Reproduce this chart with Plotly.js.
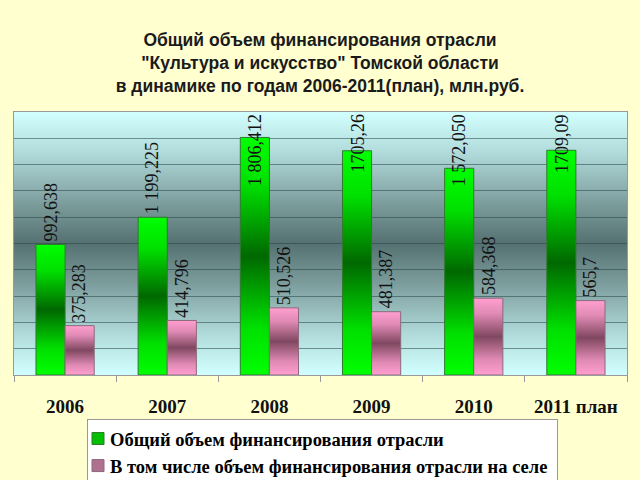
<!DOCTYPE html>
<html>
<head>
<meta charset="utf-8">
<script src="https://cdn.plot.ly/plotly-3.0.1.min.js"></script>
<style>
html,body{margin:0;padding:0;background:#FFFFD0;}
#chart{width:640px;height:480px;}
</style>
</head>
<body>
<div id="chart"></div>
<script>
const categories = ["2006", "2007", "2008", "2009", "2010", "2011 план"];
const totalValues = [992.638, 1199.225, 1806.412, 1705.26, 1572.050, 1709.09];
const ruralValues = [375.283, 414.796, 510.526, 481.387, 584.368, 565.7];
const totalLabels = ["992,638", "1 199,225", "1 806,412", "1705,26", "1 572,050", "1709,09"];
const ruralLabels = ["375,283", "414,796", "510,526", "481,387", "584,368", "565,7"];
const seriesNames = ["Общий объем финансирования отрасли", "В том числе объем финансирования отрасли на селе"];

const yMax = 2000;
const plotTop = 112, plotBottom = 375;
const labelFont = 18;

function textPx(s) {
  let w = 0;
  for (const ch of s) w += (/[0-9]/.test(ch) ? 0.5 : 0.25) * labelFont;
  return w;
}

const data = [
  {type: 'bar', name: seriesNames[0], x: categories, y: totalValues,
   marker: {color: '#00B800', line: {color: '#2f7a2f', width: 1}}},
  {type: 'bar', name: seriesNames[1], x: categories, y: ruralValues,
   marker: {color: '#C07898', line: {color: '#8a6a7a', width: 1}}}
];

const annotations = [];
const pxPerUnit = (plotBottom - plotTop) / yMax;
[[totalValues, totalLabels, -1], [ruralValues, ruralLabels, 1]].forEach(([vals, labs, side]) => {
  vals.forEach((v, i) => {
    const fits = v * pxPerUnit + textPx(labs[i]) + 4 <= (plotBottom - plotTop);
    annotations.push({
      x: i, y: fits ? v : yMax, xref: 'x', yref: 'y',
      text: labs[i], showarrow: false, textangle: -90,
      yanchor: fits ? 'bottom' : 'top', xanchor: 'center',
      xshift: side * 14.5, yshift: fits ? 1 : 0,
      font: {family: 'Liberation Serif', size: labelFont, color: '#111'}
    });
  });
});

const layout = {
  width: 640, height: 480,
  paper_bgcolor: '#FFFFD0',
  plot_bgcolor: '#9fc4c4',
  margin: {l: 14, r: 13, t: plotTop, b: 480 - plotBottom, autoexpand: false},
  title: {
    text: 'Общий объем финансирования отрасли<br>"Культура и искусство" Томской области<br>в динамике по годам 2006-2011(план), млн.руб.',
    font: {family: 'Liberation Sans', size: 17.5, color: '#1a1a1a', weight: 'bold'},
    x: 0.5, xanchor: 'center', y: 1 - 46/480, yanchor: 'middle', yref: 'container'
  },
  barmode: 'group', bargap: 0.43, bargroupgap: 0,
  xaxis: {
    type: 'category', showgrid: false, ticks: 'outside', tickson: 'boundaries',
    ticklen: 6, tickcolor: '#999', showline: true, linecolor: '#999', linewidth: 1, mirror: true,
    tickfont: {family: 'Liberation Serif', size: 19, color: '#111', weight: 'bold'},
    ticklabelstandoff: 14, tickangle: 0, automargin: false
  },
  yaxis: {
    range: [0, yMax], dtick: 200, showticklabels: false, ticks: '',
    showgrid: true, gridcolor: 'rgba(40,70,70,0.55)', gridwidth: 1,
    showline: true, linecolor: '#999', mirror: true, zeroline: false, automargin: false
  },
  showlegend: true,
  legend: {
    xref: 'container', yref: 'container',
    x: 87 / 640, xanchor: 'left', y: 1 - 419 / 480, yanchor: 'top',
    bgcolor: '#FFFFFF', bordercolor: '#999', borderwidth: 1,
    font: {family: 'Liberation Serif', size: 18.5, color: '#000', weight: 'bold'},
    itemwidth: 30, tracegroupgap: 0
  },
  annotations: annotations
};

Plotly.newPlot('chart', data, layout, {staticPlot: true}).then(gd => {
  const NS = 'http://www.w3.org/2000/svg';
  const svg = gd.querySelector('svg.main-svg');
  const defs = document.createElementNS(NS, 'defs');
  function grad(id, stops) {
    const g = document.createElementNS(NS, 'linearGradient');
    g.setAttribute('id', id);
    g.setAttribute('x1', '0'); g.setAttribute('y1', '0');
    g.setAttribute('x2', '0'); g.setAttribute('y2', '1');
    stops.forEach(([o, c]) => {
      const s = document.createElementNS(NS, 'stop');
      s.setAttribute('offset', o); s.setAttribute('stop-color', c);
      g.appendChild(s);
    });
    defs.appendChild(g);
  }
  grad('gBg', [[0, '#D2FFFF'], [0.15, '#B2DCDC'], [0.35, '#7C9C9C'], [0.5, '#557171'], [0.65, '#7C9C9C'], [0.85, '#B2DCDC'], [1, '#D2FFFF']]);
  grad('gGreen', [[0, '#00FF00'], [0.2, '#00E000'], [0.5, '#006800'], [0.8, '#00E000'], [1, '#00FF00']]);
  grad('gPink', [[0, '#FF9FD0'], [0.2, '#E08AB5'], [0.5, '#804860'], [0.8, '#E08AB5'], [1, '#FF9FD0']]);
  svg.insertBefore(defs, svg.firstChild);
  const bg = gd.querySelector('.bglayer rect.bg');
  if (bg) bg.style.fill = 'url(#gBg)';
  const ids = ['gGreen', 'gPink'];
  gd.querySelectorAll('.barlayer .trace').forEach((tr, i) => {
    tr.querySelectorAll('path').forEach(p => { p.style.fill = 'url(#' + ids[i] + ')'; });
  });
  // tighten legend: text closer to swatch
  const shift = 18;
  const legendColors = ['#00C000', '#B07090'];
  gd.querySelectorAll('.legend .traces').forEach((tr, i) => {
    const t = tr.querySelector('text.legendtext');
    if (t) t.setAttribute('x', parseFloat(t.getAttribute('x') || 0) - shift);
    const lp = tr.querySelector('.legendpoints');
    if (lp) {
      const orig = lp.getAttribute('transform') || '';
      lp.setAttribute('transform', 'translate(-10,0) ' + orig);
    }
    tr.querySelectorAll('.legendpoints path').forEach(p => {
      p.style.fill = legendColors[i];
    });
  });
  const lbg = gd.querySelector('.legend rect.bg');
  if (lbg) lbg.setAttribute('width', parseFloat(lbg.getAttribute('width')) - shift + 4);
});
</script>
</body>
</html>
